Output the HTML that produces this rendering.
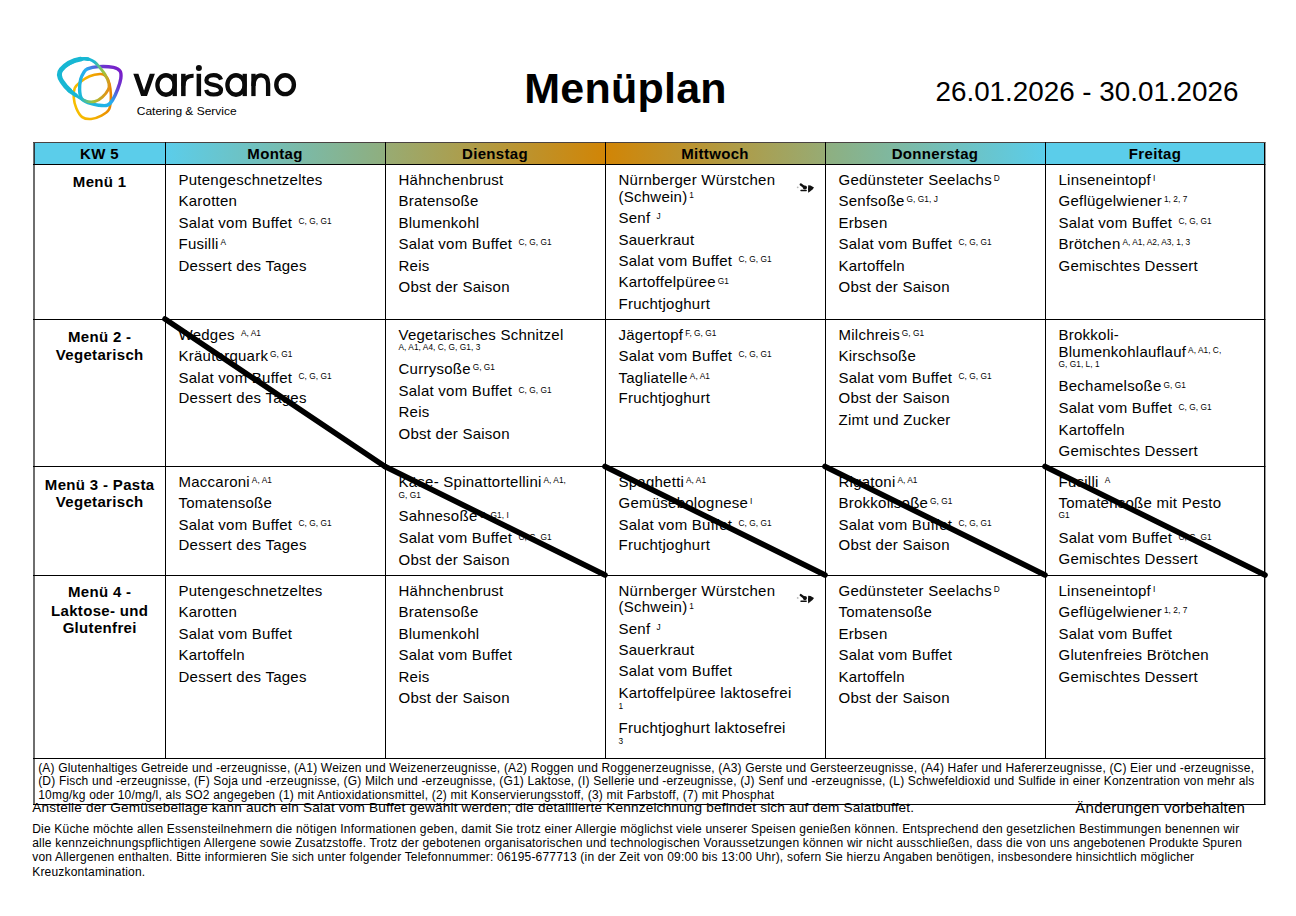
<!DOCTYPE html>
<html lang="de"><head><meta charset="utf-8"><title>Menüplan KW 5</title>
<style>
html,body{margin:0;padding:0;background:#fff;}
body{width:1296px;height:916px;overflow:hidden;}
svg{display:block;font-family:"Liberation Sans",sans-serif;}
text{fill:#000;}
.b{font-size:15px;letter-spacing:0.25px;}
.sp{font-size:8.3px;letter-spacing:0.05px;}
.sm{font-size:8.3px;letter-spacing:0.05px;}
.h{font-size:15px;font-weight:bold;letter-spacing:0.33px;}
.lg{font-size:12px;letter-spacing:0.18px;}
.an{font-size:13.6px;letter-spacing:0.19px;}
.ae{font-size:15px;letter-spacing:0.25px;}
.pa{font-size:12px;letter-spacing:0.2px;}
.tt{font-size:43px;font-weight:bold;letter-spacing:0.25px;}
.dt{font-size:27.8px;}
</style></head>
<body>
<svg width="1296" height="916" viewBox="0 0 1296 916">

<defs>
<linearGradient id="g1" x1="0" x2="1" y1="0" y2="0"><stop offset="0" stop-color="#5bcdea"/><stop offset="1" stop-color="#8fae7e"/></linearGradient>
<linearGradient id="g2" x1="0" x2="1" y1="0" y2="0"><stop offset="0" stop-color="#98ab73"/><stop offset="1" stop-color="#d18506"/></linearGradient>
<linearGradient id="g3" x1="0" x2="1" y1="0" y2="0"><stop offset="0" stop-color="#d18506"/><stop offset="1" stop-color="#97ab74"/></linearGradient>
<linearGradient id="g4" x1="0" x2="1" y1="0" y2="0"><stop offset="0" stop-color="#8eaf80"/><stop offset="1" stop-color="#5bcdea"/></linearGradient>
</defs>

<rect x="35" y="143" width="130" height="21" fill="#5bcdea"/><rect x="166" y="143" width="219" height="21" fill="url(#g1)"/><rect x="386" y="143" width="219" height="21" fill="url(#g2)"/><rect x="606" y="143" width="219" height="21" fill="url(#g3)"/><rect x="826" y="143" width="219" height="21" fill="url(#g4)"/><rect x="1046" y="143" width="218" height="21" fill="#5bcdea"/><rect x="33" y="142" width="2" height="663" fill="#6e6e6e"/><rect x="34" y="143" width="1" height="21" fill="#2a3a40"/><rect x="1264" y="142" width="1.4" height="663" fill="#000"/><rect x="33" y="142" width="1232.4" height="1" fill="#4a4342"/><rect x="33" y="164" width="1232.4" height="1" fill="#000"/><rect x="33" y="319" width="1232.4" height="1" fill="#000"/><rect x="33" y="466" width="1232.4" height="1" fill="#000"/><rect x="33" y="575" width="1232.4" height="1" fill="#000"/><rect x="33" y="758" width="1232.4" height="1" fill="#000"/><rect x="33" y="804" width="1232.4" height="1" fill="#000"/><rect x="165" y="142" width="1" height="617" fill="#000"/><rect x="385" y="142" width="1" height="617" fill="#000"/><rect x="605" y="142" width="1" height="617" fill="#000"/><rect x="825" y="142" width="1" height="617" fill="#000"/><rect x="1045" y="142" width="1" height="617" fill="#000"/><line x1="165" y1="319" x2="385" y2="466.5" stroke="#000" stroke-width="5.6" stroke-linecap="round"/><line x1="385" y1="466.5" x2="605" y2="575" stroke="#000" stroke-width="5.6" stroke-linecap="round"/><line x1="605" y1="466.5" x2="825" y2="575" stroke="#000" stroke-width="5.6" stroke-linecap="round"/><line x1="825" y1="466.5" x2="1045" y2="575" stroke="#000" stroke-width="5.6" stroke-linecap="round"/><line x1="1045" y1="466.5" x2="1265" y2="575" stroke="#000" stroke-width="5.6" stroke-linecap="round"/>

<defs>
 <linearGradient id="lgA" gradientUnits="userSpaceOnUse" x1="60" y1="70" x2="110" y2="88">
  <stop offset="0" stop-color="#16b6d2"/><stop offset="0.55" stop-color="#1bb8d3"/><stop offset="0.78" stop-color="#9cc640"/><stop offset="1" stop-color="#ea8c10"/>
 </linearGradient>
 <linearGradient id="lgB" gradientUnits="userSpaceOnUse" x1="82" y1="100" x2="120" y2="70">
  <stop offset="0" stop-color="#19b9d6"/><stop offset="0.45" stop-color="#26aef0"/><stop offset="0.75" stop-color="#6a3ad0"/><stop offset="1" stop-color="#7a1cc8"/>
 </linearGradient>
 <linearGradient id="lgC" gradientUnits="userSpaceOnUse" x1="76" y1="100" x2="110" y2="95">
  <stop offset="0" stop-color="#f7bd00"/><stop offset="0.5" stop-color="#f3ad00"/><stop offset="1" stop-color="#e88400"/>
 </linearGradient>
</defs>
<path d="M100.00 74.00 C97.52 74.18 92.93 74.93 89.60 76.30 C86.27 77.67 82.47 80.23 80.00 82.20 C77.53 84.17 75.85 85.62 74.80 88.10 C73.75 90.58 73.45 93.75 73.70 97.10 C73.95 100.45 74.88 104.87 76.30 108.20 C77.72 111.53 79.73 115.30 82.20 117.10 C84.67 118.90 87.88 119.25 91.10 119.00 C94.32 118.75 98.53 117.15 101.50 115.60 C104.47 114.05 107.35 112.30 108.90 109.70 C110.45 107.10 110.55 103.47 110.80 100.00 C111.05 96.53 110.83 92.23 110.40 88.90 C109.97 85.57 109.18 82.28 108.20 80.00 C107.22 77.72 105.87 76.20 104.50 75.20 C103.13 74.20 102.48 73.82 100.00 74.00 Z" fill="none" stroke="url(#lgC)" stroke-width="2.6"/><path d="M87.40 68.80 C89.87 67.80 94.17 66.83 98.50 66.60 C102.83 66.37 109.80 66.65 113.40 67.40 C117.00 68.15 118.87 69.25 120.10 71.10 C121.33 72.95 121.18 75.53 120.80 78.50 C120.42 81.47 119.17 85.32 117.80 88.90 C116.43 92.48 114.32 97.28 112.60 100.00 C110.88 102.72 109.85 104.33 107.50 105.20 C105.15 106.07 101.60 105.57 98.50 105.20 C95.40 104.83 91.73 104.12 88.90 103.00 C86.07 101.88 83.05 100.73 81.50 98.50 C79.95 96.27 79.73 92.82 79.60 89.60 C79.47 86.38 80.02 82.03 80.70 79.20 C81.38 76.37 82.58 74.33 83.70 72.60 C84.82 70.87 84.93 69.80 87.40 68.80 Z" fill="none" stroke="url(#lgB)" stroke-width="3.4"/><path d="M84.00 58.60 C81.92 58.75 79.67 59.22 77.00 60.20 C74.33 61.18 70.60 62.93 68.00 64.50 C65.40 66.07 62.80 67.77 61.40 69.60 C60.00 71.43 58.98 72.90 59.60 75.50 C60.22 78.10 62.82 82.23 65.10 85.20 C67.38 88.17 69.95 90.70 73.30 93.30 C76.65 95.90 81.62 99.43 85.20 100.80 C88.78 102.17 91.95 102.12 94.80 101.50 C97.65 100.88 100.07 99.08 102.30 97.10 C104.53 95.12 107.10 91.83 108.20 89.60 C109.30 87.37 109.40 86.17 108.90 83.70 C108.40 81.23 106.85 77.65 105.20 74.80 C103.55 71.95 100.78 68.73 99.00 66.60 C97.22 64.47 96.08 63.22 94.50 62.00 C92.92 60.78 91.25 59.87 89.50 59.30 C87.75 58.73 86.08 58.45 84.00 58.60 Z" fill="none" stroke="url(#lgA)" stroke-width="2.9"/><path d="M88 59.1 C85 58.6 82 58.7 79 59.3" fill="none" stroke="#17b7d3" stroke-width="3.6" stroke-linecap="round"/><path d="M80.5 59.1 C74 60.2 66 63.8 61.2 69.6 C58.8 72.5 59 77 62 81.5 C64.5 85.5 67 88 70 90.8" fill="none" stroke="#17b7d3" stroke-width="4.9" stroke-linecap="round"/><path d="M69 90 C71 92 73.5 93.7 76 95.3" fill="none" stroke="#17b7d3" stroke-width="3.9" stroke-linecap="round"/>
<g fill="#0a0a0a"><path d="M133.3 73.8 L138.4 73.8 L144.05 90.6 L149.8 73.8 L154.9 73.8 L147 96.1 L141.1 96.1 Z"/><ellipse cx="166.0" cy="85.0" rx="8.6" ry="9.75" fill="none" stroke="#0a0a0a" stroke-width="4.3"/><rect x="172.6" y="73.8" width="4.3" height="22.3"/><ellipse cx="236.0" cy="85.0" rx="8.6" ry="9.75" fill="none" stroke="#0a0a0a" stroke-width="4.3"/><rect x="242.6" y="73.8" width="4.3" height="22.3"/><rect x="181.1" y="73.8" width="4.5" height="22.3"/><path d="M183.3 86 C183.3 79 186.5 75.7 193.6 75.7" fill="none" stroke="#0a0a0a" stroke-width="4"/><rect x="196.6" y="73.8" width="4.5" height="22.3"/><circle cx="198.9" cy="67.9" r="3"/><path d="M221.0 79.6 C220.0 76.5 217.0 75.2 213.6 75.2 C209.5 75.2 206.4 77.2 206.4 80.2 C206.4 83.4 209.5 84.2 213.6 84.9 C218.0 85.7 221.0 87.0 221.0 90.3 C221.0 93.0 218.0 94.5 213.6 94.5 C209.5 94.5 206.8 93.0 206.2 89.8" fill="none" stroke="#0a0a0a" stroke-width="4.2"/><rect x="251.3" y="73.8" width="4.3" height="22.3"/><path d="M253.45 86 C253.45 79 256.8 75.3 261.1 75.3 C265.4 75.3 268.1 78.2 268.1 84 L268.1 96.1" fill="none" stroke="#0a0a0a" stroke-width="4.3"/><ellipse cx="285.1" cy="84.7" rx="8.8" ry="9.45" fill="none" stroke="#0a0a0a" stroke-width="4.4"/></g><text x="136.8" y="114.7" font-size="11.6" textLength="99.8" lengthAdjust="spacingAndGlyphs" fill="#2a2a2a">Catering &amp; Service</text>
<text x="524.2" y="102.8" class="tt">Menüplan</text>
<text x="935.5" y="100.9" class="dt">26.01.2026 - 30.01.2026</text>
<text class="b" x="178.5" y="184.9">Putengeschnetzeltes</text><text class="b" x="178.5" y="205.7">Karotten</text><text class="b" x="178.5" y="227.8">Salat vom Buffet<tspan class="sp" dx="6.2" dy="-3.7">C, G, G1</tspan></text><text class="b" x="178.5" y="248.5">Fusilli<tspan class="sp" dx="1.9" dy="-3.7">A</tspan></text><text class="b" x="178.5" y="270.6">Dessert des Tages</text><text class="b" x="398.5" y="184.9">Hähnchenbrust</text><text class="b" x="398.5" y="205.7">Bratensoße</text><text class="b" x="398.5" y="227.8">Blumenkohl</text><text class="b" x="398.5" y="248.5">Salat vom Buffet<tspan class="sp" dx="6.2" dy="-3.7">C, G, G1</tspan></text><text class="b" x="398.5" y="270.6">Reis</text><text class="b" x="398.5" y="291.5">Obst der Saison</text><text class="b" x="618.5" y="184.9">Nürnberger Würstchen</text><text class="b" x="618.5" y="201.5">(Schwein)<tspan class="sp" dx="1.9" dy="-3.7">1</tspan></text><text class="b" x="618.5" y="222.7">Senf<tspan class="sp" dx="6.2" dy="-3.7">J</tspan></text><text class="b" x="618.5" y="244.5">Sauerkraut</text><text class="b" x="618.5" y="265.7">Salat vom Buffet<tspan class="sp" dx="6.2" dy="-3.7">C, G, G1</tspan></text><text class="b" x="618.5" y="287.2">Kartoffelpüree<tspan class="sp" dx="1.9" dy="-3.7">G1</tspan></text><text class="b" x="618.5" y="309.0">Fruchtjoghurt</text><text class="b" x="838.5" y="184.9">Gedünsteter Seelachs<tspan class="sp" dx="1.9" dy="-3.7">D</tspan></text><text class="b" x="838.5" y="205.7">Senfsoße<tspan class="sp" dx="1.9" dy="-3.7">G, G1, J</tspan></text><text class="b" x="838.5" y="227.8">Erbsen</text><text class="b" x="838.5" y="248.5">Salat vom Buffet<tspan class="sp" dx="6.2" dy="-3.7">C, G, G1</tspan></text><text class="b" x="838.5" y="270.6">Kartoffeln</text><text class="b" x="838.5" y="291.5">Obst der Saison</text><text class="b" x="1058.5" y="184.9">Linseneintopf<tspan class="sp" dx="1.9" dy="-3.7">I</tspan></text><text class="b" x="1058.5" y="205.7">Geflügelwiener<tspan class="sp" dx="1.9" dy="-3.7">1, 2, 7</tspan></text><text class="b" x="1058.5" y="227.8">Salat vom Buffet<tspan class="sp" dx="6.2" dy="-3.7">C, G, G1</tspan></text><text class="b" x="1058.5" y="248.5">Brötchen<tspan class="sp" dx="1.9" dy="-3.7">A, A1, A2, A3, 1, 3</tspan></text><text class="b" x="1058.5" y="270.6">Gemischtes Dessert</text><text class="b" x="178.5" y="339.7">Wedges<tspan class="sp" dx="6.2" dy="-3.7">A, A1</tspan></text><text class="b" x="178.5" y="360.5">Kräuterquark<tspan class="sp" dx="1.9" dy="-3.7">G, G1</tspan></text><text class="b" x="178.5" y="382.6">Salat vom Buffet<tspan class="sp" dx="6.2" dy="-3.7">C, G, G1</tspan></text><text class="b" x="178.5" y="403.3">Dessert des Tages</text><text class="b" x="398.5" y="339.7">Vegetarisches Schnitzel</text><text class="sm" x="398.5" y="349.7">A, A1, A4, C, G, G1, 3</text><text class="b" x="398.5" y="374.0">Currysoße<tspan class="sp" dx="1.9" dy="-3.7">G, G1</tspan></text><text class="b" x="398.5" y="396.4">Salat vom Buffet<tspan class="sp" dx="6.2" dy="-3.7">C, G, G1</tspan></text><text class="b" x="398.5" y="417.3">Reis</text><text class="b" x="398.5" y="439.4">Obst der Saison</text><text class="b" x="618.5" y="339.7">Jägertopf<tspan class="sp" dx="1.9" dy="-3.7">F, G, G1</tspan></text><text class="b" x="618.5" y="360.5">Salat vom Buffet<tspan class="sp" dx="6.2" dy="-3.7">C, G, G1</tspan></text><text class="b" x="618.5" y="382.6">Tagliatelle<tspan class="sp" dx="1.9" dy="-3.7">A, A1</tspan></text><text class="b" x="618.5" y="403.3">Fruchtjoghurt</text><text class="b" x="838.5" y="339.7">Milchreis<tspan class="sp" dx="1.9" dy="-3.7">G, G1</tspan></text><text class="b" x="838.5" y="360.5">Kirschsoße</text><text class="b" x="838.5" y="382.6">Salat vom Buffet<tspan class="sp" dx="6.2" dy="-3.7">C, G, G1</tspan></text><text class="b" x="838.5" y="403.3">Obst der Saison</text><text class="b" x="838.5" y="425.4">Zimt und Zucker</text><text class="b" x="1058.5" y="339.7">Brokkoli-</text><text class="b" x="1058.5" y="356.5">Blumenkohlauflauf<tspan class="sp" dx="1.9" dy="-3.7">A, A1, C,</tspan></text><text class="sm" x="1058.5" y="367.2">G, G1, L, 1</text><text class="b" x="1058.5" y="391.3">Bechamelsoße<tspan class="sp" dx="1.9" dy="-3.7">G, G1</tspan></text><text class="b" x="1058.5" y="413.4">Salat vom Buffet<tspan class="sp" dx="6.2" dy="-3.7">C, G, G1</tspan></text><text class="b" x="1058.5" y="434.8">Kartoffeln</text><text class="b" x="1058.5" y="456.4">Gemischtes Dessert</text><text class="b" x="178.5" y="486.7">Maccaroni<tspan class="sp" dx="1.9" dy="-3.7">A, A1</tspan></text><text class="b" x="178.5" y="507.5">Tomatensoße</text><text class="b" x="178.5" y="529.6">Salat vom Buffet<tspan class="sp" dx="6.2" dy="-3.7">C, G, G1</tspan></text><text class="b" x="178.5" y="550.3">Dessert des Tages</text><text class="b" x="398.5" y="486.7">Käse- Spinattortellini<tspan class="sp" dx="1.9" dy="-3.7">A, A1,</tspan></text><text class="sm" x="398.5" y="497.7">G, G1</text><text class="b" x="398.5" y="521.2">Sahnesoße<tspan class="sp" dx="1.9" dy="-3.7">G, G1, I</tspan></text><text class="b" x="398.5" y="543.2">Salat vom Buffet<tspan class="sp" dx="6.2" dy="-3.7">C, G, G1</tspan></text><text class="b" x="398.5" y="564.5">Obst der Saison</text><text class="b" x="618.5" y="486.7">Spaghetti<tspan class="sp" dx="1.9" dy="-3.7">A, A1</tspan></text><text class="b" x="618.5" y="507.5">Gemüsebolognese<tspan class="sp" dx="1.9" dy="-3.7">I</tspan></text><text class="b" x="618.5" y="529.6">Salat vom Buffet<tspan class="sp" dx="6.2" dy="-3.7">C, G, G1</tspan></text><text class="b" x="618.5" y="550.3">Fruchtjoghurt</text><text class="b" x="838.5" y="486.7">Rigatoni<tspan class="sp" dx="1.9" dy="-3.7">A, A1</tspan></text><text class="b" x="838.5" y="507.5">Brokkolisoße<tspan class="sp" dx="1.9" dy="-3.7">G, G1</tspan></text><text class="b" x="838.5" y="529.6">Salat vom Buffet<tspan class="sp" dx="6.2" dy="-3.7">C, G, G1</tspan></text><text class="b" x="838.5" y="550.3">Obst der Saison</text><text class="b" x="1058.5" y="486.7">Fusilli<tspan class="sp" dx="6.2" dy="-3.7">A</tspan></text><text class="b" x="1058.5" y="508.1">Tomatensoße mit Pesto</text><text class="sm" x="1058.5" y="518.3">G1</text><text class="b" x="1058.5" y="543.2">Salat vom Buffet<tspan class="sp" dx="6.2" dy="-3.7">C, G, G1</tspan></text><text class="b" x="1058.5" y="564.1">Gemischtes Dessert</text><text class="b" x="178.5" y="595.6">Putengeschnetzeltes</text><text class="b" x="178.5" y="617.0">Karotten</text><text class="b" x="178.5" y="638.6">Salat vom Buffet</text><text class="b" x="178.5" y="659.8">Kartoffeln</text><text class="b" x="178.5" y="681.5">Dessert des Tages</text><text class="b" x="398.5" y="595.6">Hähnchenbrust</text><text class="b" x="398.5" y="617.0">Bratensoße</text><text class="b" x="398.5" y="638.6">Blumenkohl</text><text class="b" x="398.5" y="659.8">Salat vom Buffet</text><text class="b" x="398.5" y="681.5">Reis</text><text class="b" x="398.5" y="702.6">Obst der Saison</text><text class="b" x="618.5" y="595.6">Nürnberger Würstchen</text><text class="b" x="618.5" y="612.4">(Schwein)<tspan class="sp" dx="1.9" dy="-3.7">1</tspan></text><text class="b" x="618.5" y="633.6">Senf<tspan class="sp" dx="6.2" dy="-3.7">J</tspan></text><text class="b" x="618.5" y="655.4">Sauerkraut</text><text class="b" x="618.5" y="676.4">Salat vom Buffet</text><text class="b" x="618.5" y="698.2">Kartoffelpüree laktosefrei</text><text class="sm" x="618.5" y="709.3">1</text><text class="b" x="618.5" y="733.2">Fruchtjoghurt laktosefrei</text><text class="sm" x="618.5" y="744.3">3</text><text class="b" x="838.5" y="595.6">Gedünsteter Seelachs<tspan class="sp" dx="1.9" dy="-3.7">D</tspan></text><text class="b" x="838.5" y="617.0">Tomatensoße</text><text class="b" x="838.5" y="638.6">Erbsen</text><text class="b" x="838.5" y="659.8">Salat vom Buffet</text><text class="b" x="838.5" y="681.5">Kartoffeln</text><text class="b" x="838.5" y="702.6">Obst der Saison</text><text class="b" x="1058.5" y="595.6">Linseneintopf<tspan class="sp" dx="1.9" dy="-3.7">I</tspan></text><text class="b" x="1058.5" y="617.0">Geflügelwiener<tspan class="sp" dx="1.9" dy="-3.7">1, 2, 7</tspan></text><text class="b" x="1058.5" y="638.6">Salat vom Buffet</text><text class="b" x="1058.5" y="659.8">Glutenfreies Brötchen</text><text class="b" x="1058.5" y="681.5">Gemischtes Dessert</text><text class="h" x="99.7" y="186.5" text-anchor="middle">Menü 1</text><text class="h" x="99.7" y="341.6" text-anchor="middle">Menü 2 -</text><text class="h" x="99.7" y="359.8" text-anchor="middle">Vegetarisch</text><text class="h" x="99.7" y="489.7" text-anchor="middle">Menü 3 - Pasta</text><text class="h" x="99.7" y="507.4" text-anchor="middle">Vegetarisch</text><text class="h" x="99.7" y="597.4" text-anchor="middle">Menü 4 -</text><text class="h" x="99.7" y="615.5" text-anchor="middle">Laktose- und</text><text class="h" x="99.7" y="633.1" text-anchor="middle">Glutenfrei</text><text class="h" x="99.5" y="159.1" text-anchor="middle">KW 5</text><text class="h" x="275" y="159.1" text-anchor="middle">Montag</text><text class="h" x="495" y="159.1" text-anchor="middle">Dienstag</text><text class="h" x="715" y="159.1" text-anchor="middle">Mittwoch</text><text class="h" x="935" y="159.1" text-anchor="middle">Donnerstag</text><text class="h" x="1155" y="159.1" text-anchor="middle">Freitag</text>
<g transform="translate(797,183.2)" fill="#111"><path d="M3.8 1.3 L8 4.4" stroke="#111" stroke-width="2.4" stroke-linecap="round"/><circle cx="7.9" cy="4.3" r="2.1"/><rect x="3.3" y="6.6" width="6.6" height="1.5" rx="0.7"/><path d="M11.2 2 L13.5 2.3 L17 4.3 L15.5 6.3 L13 8.3 L11.2 9.6 L11 5.8 Z"/><circle cx="0.7" cy="4.1" r="0.9" opacity="0.3"/></g><g transform="translate(797,593.8)" fill="#111"><path d="M3.8 1.3 L8 4.4" stroke="#111" stroke-width="2.4" stroke-linecap="round"/><circle cx="7.9" cy="4.3" r="2.1"/><rect x="3.3" y="6.6" width="6.6" height="1.5" rx="0.7"/><path d="M11.2 2 L13.5 2.3 L17 4.3 L15.5 6.3 L13 8.3 L11.2 9.6 L11 5.8 Z"/><circle cx="0.7" cy="4.1" r="0.9" opacity="0.3"/></g>
<text class="lg" x="38.2" y="771.8">(A) Glutenhaltiges Getreide und -erzeugnisse, (A1) Weizen und Weizenerzeugnisse, (A2) Roggen und Roggenerzeugnisse, (A3) Gerste und Gersteerzeugnisse, (A4) Hafer und Hafererzeugnisse, (C) Eier und -erzeugnisse,</text><text class="lg" x="38.2" y="784.7">(D) Fisch und -erzeugnisse, (F) Soja und -erzeugnisse, (G) Milch und -erzeugnisse, (G1) Laktose, (I) Sellerie und -erzeugnisse, (J) Senf und -erzeugnisse, (L) Schwefeldioxid und Sulfide in einer Konzentration von mehr als</text><text class="lg" x="38.2" y="799.0" style="letter-spacing:0.21px">10mg/kg oder 10/mg/l, als SO2 angegeben (1) mit Antioxidationsmittel, (2) mit Konservierungsstoff, (3) mit Farbstoff, (7) mit Phosphat</text>
<text class="an" x="32.2" y="811.8">Anstelle der Gemüsebeilage kann auch ein Salat vom Buffet gewählt werden; die detaillierte Kennzeichnung befindet sich auf dem Salatbuffet.</text><text class="ae" x="1075.3" y="813.3">Änderungen vorbehalten</text><text class="pa" x="32.2" y="833.2">Die Küche möchte allen Essensteilnehmern die nötigen Informationen geben, damit Sie trotz einer Allergie möglichst viele unserer Speisen genießen können. Entsprechend den gesetzlichen Bestimmungen benennen wir</text><text class="pa" x="32.2" y="847.4">alle kennzeichnungspflichtigen Allergene sowie Zusatzstoffe. Trotz der gebotenen organisatorischen und technologischen Voraussetzungen können wir nicht ausschließen, dass die von uns angebotenen Produkte Spuren</text><text class="pa" x="32.2" y="861.3">von Allergenen enthalten. Bitte informieren Sie sich unter folgender Telefonnummer: 06195-677713 (in der Zeit von 09:00 bis 13:00 Uhr), sofern Sie hierzu Angaben benötigen, insbesondere hinsichtlich möglicher</text><text class="pa" x="32.2" y="875.6">Kreuzkontamination.</text>
</svg>
</body></html>
